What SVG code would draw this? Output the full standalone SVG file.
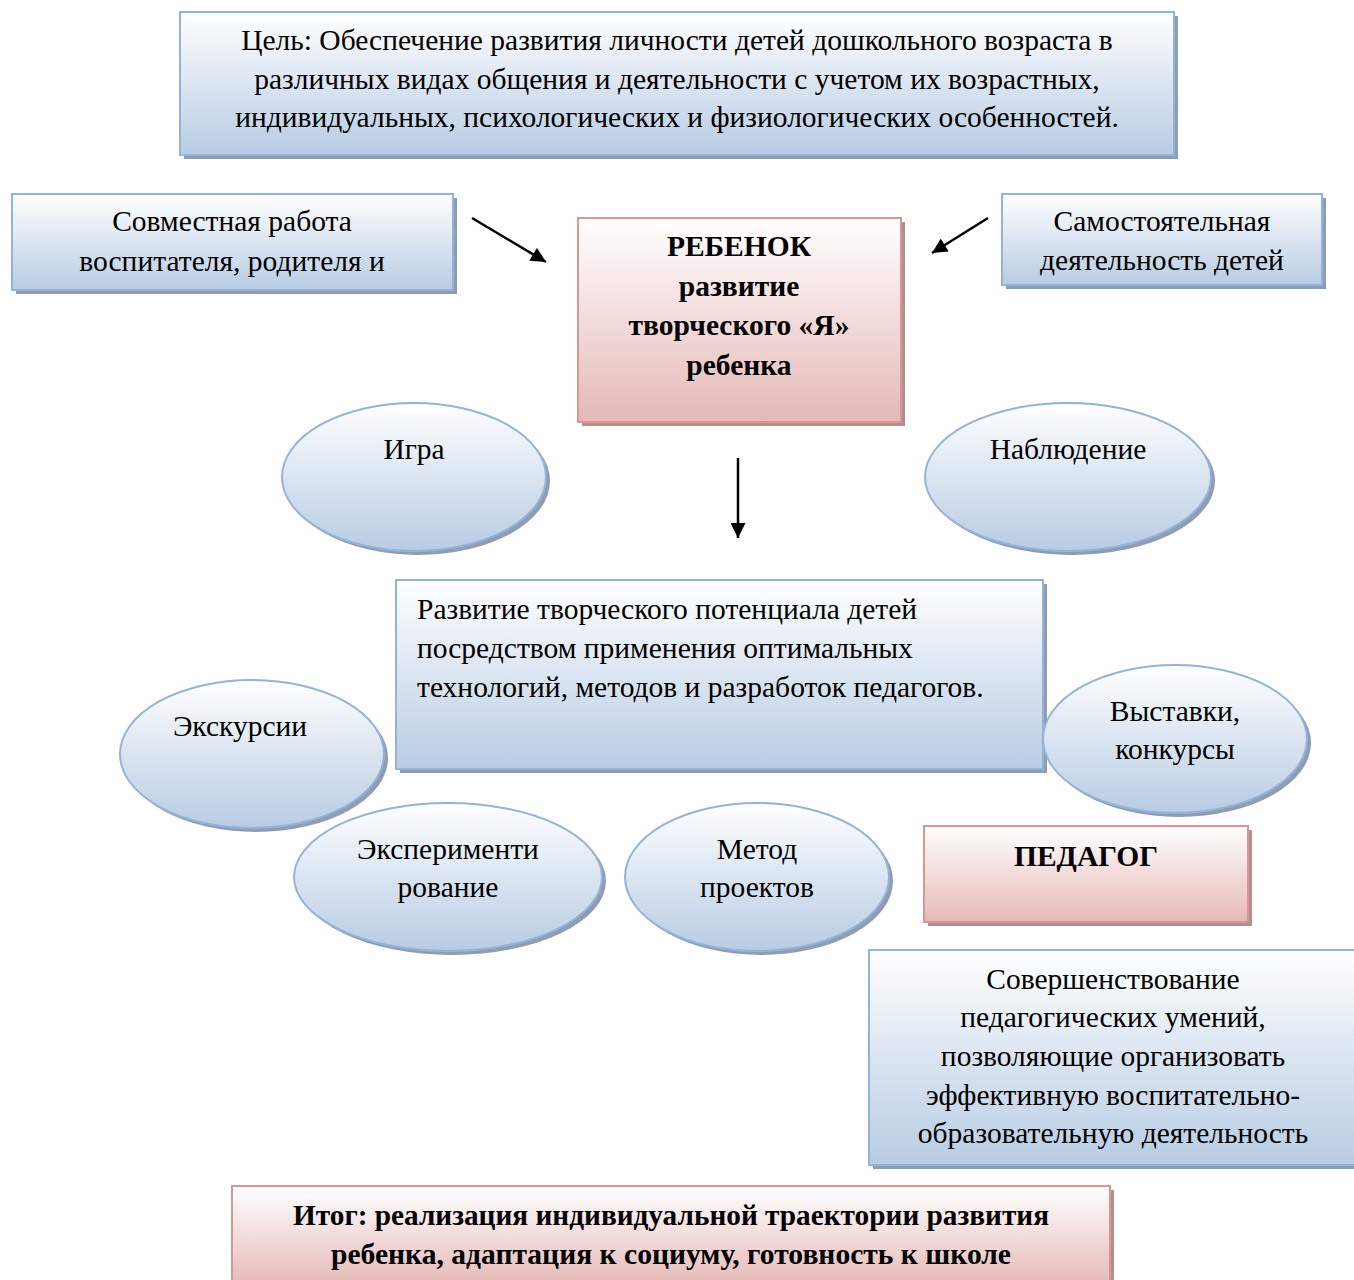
<svg xmlns="http://www.w3.org/2000/svg" width="1354" height="1280" viewBox="0 0 1354 1280">
<defs>
<linearGradient id="gb" x1="0" y1="0" x2="0" y2="1"><stop offset="0" stop-color="#ffffff"/><stop offset="0.5" stop-color="#dbe5f1"/><stop offset="1" stop-color="#b8cce4"/></linearGradient>
<linearGradient id="gp" x1="0" y1="0" x2="0" y2="1"><stop offset="0" stop-color="#ffffff"/><stop offset="0.5" stop-color="#f2dcdb"/><stop offset="1" stop-color="#e5b9b7"/></linearGradient>
<marker id="ah" viewBox="0 0 10 10" refX="10" refY="5" markerWidth="6.5" markerHeight="6" orient="auto" markerUnits="strokeWidth"><path d="M0,0 L10,5 L0,10 z" fill="#000"/></marker>
</defs>
<style>
.bb{fill:url(#gb);stroke:#95b3d7;stroke-width:2}
.pb{fill:url(#gp);stroke:#d99694;stroke-width:2}
.sb{fill:#8e9db3}
.sp{fill:#b3908f}
.t{font-family:"Liberation Serif","Times New Roman",serif;font-size:29.5px;fill:#000}
.c{text-anchor:middle}
.b{font-weight:bold}
.ln{stroke:#000;stroke-width:2.5;fill:none;marker-end:url(#ah)}
</style>
<rect width="1354" height="1280" fill="#fff"/>

<g id="goal">
<rect class="sb" x="184" y="16" width="994" height="143"/>
<rect class="bb" x="180" y="12" width="994" height="143"/>
<text class="t c" x="677" y="50">Цель: Обеспечение развития личности детей дошкольного возраста в</text>
<text class="t c" x="677" y="89">различных видах общения и деятельности с учетом их возрастных,</text>
<text class="t c" x="677" y="127">индивидуальных, психологических и физиологических особенностей.</text>
</g>

<g id="joint">
<rect class="sb" x="16" y="198" width="441" height="96"/>
<rect class="bb" x="12" y="194" width="441" height="96"/>
<text class="t c" x="232" y="231">Совместная работа</text>
<text class="t c" x="232" y="271">воспитателя, родителя и</text>
</g>

<g id="independent">
<rect class="sb" x="1006" y="198" width="320" height="91"/>
<rect class="bb" x="1002" y="194" width="320" height="91"/>
<text class="t c" x="1162" y="231">Самостоятельная</text>
<text class="t c" x="1162" y="270">деятельность детей</text>
</g>

<g id="child">
<rect class="sp" x="582" y="222" width="323" height="204"/>
<rect class="pb" x="578" y="218" width="323" height="204"/>
<text class="t c b" x="739" y="256">РЕБЕНОК</text>
<text class="t c b" x="739" y="296">развитие</text>
<text class="t c b" x="739" y="335">творческого «Я»</text>
<text class="t c b" x="739" y="375">ребенка</text>
</g>

<g id="game">
<ellipse class="sb" cx="418" cy="481" rx="132" ry="74"/>
<ellipse class="bb" cx="414" cy="477" rx="132" ry="74"/>
<text class="t c" x="414" y="459">Игра</text>
</g>

<g id="observation">
<ellipse class="sb" cx="1072" cy="481" rx="143" ry="74"/>
<ellipse class="bb" cx="1068" cy="477" rx="143" ry="74"/>
<text class="t c" x="1068" y="459">Наблюдение</text>
</g>

<g id="development">
<rect class="sb" x="400" y="584" width="647" height="189"/>
<rect class="bb" x="396" y="580" width="647" height="189"/>
<text class="t" x="417" y="619">Развитие творческого потенциала детей</text>
<text class="t" x="417" y="658">посредством применения оптимальных</text>
<text class="t" x="417" y="697">технологий, методов и разработок педагогов.</text>
</g>

<g id="excursions">
<ellipse class="sb" cx="256" cy="758" rx="132" ry="74"/>
<ellipse class="bb" cx="252" cy="754" rx="132" ry="74"/>
<text class="t c" x="240" y="736">Экскурсии</text>
</g>

<g id="exhibitions">
<ellipse class="sb" cx="1179" cy="743" rx="132" ry="74"/>
<ellipse class="bb" cx="1175" cy="739" rx="132" ry="74"/>
<text class="t c" x="1175" y="721">Выставки,</text>
<text class="t c" x="1175" y="759">конкурсы</text>
</g>

<g id="experiment">
<ellipse class="sb" cx="452" cy="881" rx="154" ry="74"/>
<ellipse class="bb" cx="448" cy="877" rx="154" ry="74"/>
<text class="t c" x="448" y="859">Эксперименти</text>
<text class="t c" x="448" y="897">рование</text>
</g>

<g id="projects">
<ellipse class="sb" cx="761" cy="881" rx="132" ry="74"/>
<ellipse class="bb" cx="757" cy="877" rx="132" ry="74"/>
<text class="t c" x="757" y="859">Метод</text>
<text class="t c" x="757" y="897">проектов</text>
</g>

<g id="teacher">
<rect class="sp" x="928" y="830" width="324" height="96"/>
<rect class="pb" x="924" y="826" width="324" height="96"/>
<text class="t c b" x="1086" y="866">ПЕДАГОГ</text>
</g>

<g id="skills">
<rect class="sb" x="873" y="954" width="490" height="215"/>
<rect class="bb" x="869" y="950" width="490" height="215"/>
<text class="t c" x="1113" y="989">Совершенствование</text>
<text class="t c" x="1113" y="1027">педагогических умений,</text>
<text class="t c" x="1113" y="1066">позволяющие организовать</text>
<text class="t c" x="1113" y="1105">эффективную воспитательно-</text>
<text class="t c" x="1113" y="1143">образовательную деятельность</text>
</g>

<g id="result">
<rect class="sp" x="236" y="1190" width="878" height="100"/>
<rect class="pb" x="232" y="1186" width="878" height="100"/>
<text class="t c b" x="671" y="1225" textLength="756" lengthAdjust="spacingAndGlyphs">Итог: реализация индивидуальной траектории развития</text>
<text class="t c b" x="671" y="1264" textLength="680" lengthAdjust="spacingAndGlyphs">ребенка, адаптация к социуму, готовность к школе</text>
</g>

<g id="connectors">
<line class="ln" x1="472" y1="218" x2="546" y2="262"/>
<line class="ln" x1="988" y1="218" x2="932" y2="253"/>
<line class="ln" x1="738" y1="458" x2="738" y2="538"/>
</g>
</svg>
